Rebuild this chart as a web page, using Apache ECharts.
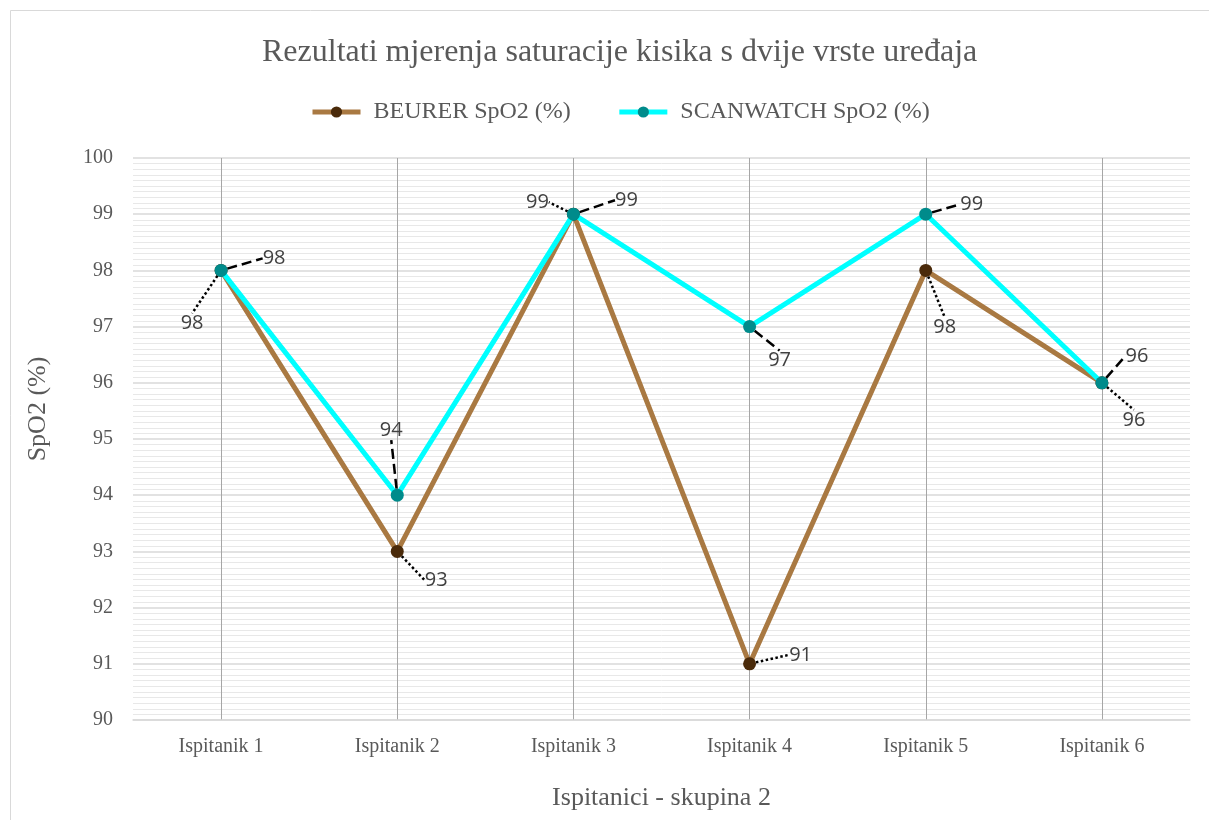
<!DOCTYPE html>
<html>
<head>
<meta charset="utf-8">
<script src="https://cdn.jsdelivr.net/npm/echarts@6/dist/echarts.min.js"></script>
<style>
  html, body { margin: 0; padding: 0; background: #fff; }
  #chart { width: 1209px; height: 820px; }
</style>
</head>
<body>
<div id="chart"></div>
<script>
// podaci
const categories = ['Ispitanik 1', 'Ispitanik 2', 'Ispitanik 3', 'Ispitanik 4', 'Ispitanik 5', 'Ispitanik 6']
const beurer = [98, 93, 99, 91, 98, 96]
const scanwatch = [98, 94, 99, 97, 99, 96]

// pomaci oznaka (px) od tocke
const beurerLabelShift = [[-29, 53], [39, 29], [-36, -12], [51, -9], [19, 57], [32, 37]]
const scanLabelShift = [[53, -12], [-6, -65], [53, -14], [30, 34], [46, -10], [35, -27]]

const serif = '"Liberation Serif", "Times New Roman", serif'
const sans = '"Open Sans", "Noto Sans", sans-serif'

let myChart = echarts.init(document.getElementById('chart'))

const labelStyle = {
  show: true,
  position: 'inside',
  fontFamily: sans,
  fontSize: 20,
  color: '#404040'
}

myChart.setOption({
  animation: false,
  backgroundColor: '#fff',
  graphic: [{
    type: 'rect',
    shape: { x: 10.5, y: 10.5, width: 1220, height: 830 },
    style: { fill: 'none', stroke: '#d9d9d9', lineWidth: 1 },
    silent: true
  }],
  title: {
    text: 'Rezultati mjerenja saturacije kisika s dvije vrste uređaja',
    left: 257,
    top: 32,
    textStyle: { fontFamily: serif, fontSize: 32, fontWeight: 'normal', color: '#595959' }
  },
  legend: {
    top: 95,
    left: 305,
    itemGap: 46,
    itemWidth: 48,
    itemHeight: 14,
    lineStyle: { width: 5 },
    textStyle: { fontFamily: serif, fontSize: 24, color: '#595959', padding: [0, 0, 0, 8] },
    data: ['BEURER SpO2 (%)', 'SCANWATCH SpO2 (%)']
  },
  grid: { left: 133, right: 19, top: 158, bottom: 100 },
  xAxis: {
    type: 'category',
    data: categories,
    boundaryGap: true,
    name: 'Ispitanici - skupina 2',
    nameLocation: 'middle',
    nameGap: 65,
    nameTextStyle: { fontFamily: serif, fontSize: 26, color: '#595959' },
    axisLine: { lineStyle: { color: '#d9d9d9', width: 1.5 } },
    axisTick: { show: false },
    axisLabel: { fontFamily: serif, fontSize: 20, color: '#595959', margin: 17 },
    splitLine: { show: true, alignWithLabel: true, lineStyle: { color: '#a6a6a6', width: 1 } }
  },
  yAxis: {
    type: 'value',
    min: 90,
    max: 100,
    interval: 1,
    name: 'SpO2 (%)',
    nameLocation: 'middle',
    nameGap: 82,
    nameTextStyle: { fontFamily: serif, fontSize: 26, color: '#595959', padding: [0, 0, 0, 60] },
    axisLine: { show: false },
    axisTick: { show: false },
    axisLabel: { fontFamily: serif, fontSize: 20, color: '#595959', margin: 20 },
    splitLine: { lineStyle: { color: '#d9d9d9', width: 1.5 } },
    minorTick: { show: false, splitNumber: 10 },
    minorSplitLine: { show: true, lineStyle: { color: '#e8e8e8', width: 1 } }
  },
  series: [
    {
      name: 'BEURER SpO2 (%)',
      type: 'line',
      data: beurer,
      symbol: 'circle',
      symbolSize: 13,
      itemStyle: { color: '#4a2a0a' },
      lineStyle: { color: '#a97942', width: 5 },
      label: labelStyle,
      labelLine: { show: true, lineStyle: { type: 'dotted', color: '#000', width: 2.5 } },
      labelLayout: p => ({ dx: beurerLabelShift[p.dataIndex][0], dy: beurerLabelShift[p.dataIndex][1] }),
      z: 2
    },
    {
      name: 'SCANWATCH SpO2 (%)',
      type: 'line',
      data: scanwatch,
      symbol: 'circle',
      symbolSize: 13,
      itemStyle: { color: '#008b8b' },
      lineStyle: { color: '#00ffff', width: 5 },
      label: labelStyle,
      labelLine: { show: true, lineStyle: { type: 'dashed', color: '#000', width: 2.5 } },
      labelLayout: p => ({ dx: scanLabelShift[p.dataIndex][0], dy: scanLabelShift[p.dataIndex][1] }),
      z: 3
    }
  ]
})

window.onresize = function() {
  myChart.resize()
}
</script>
</body>
</html>
